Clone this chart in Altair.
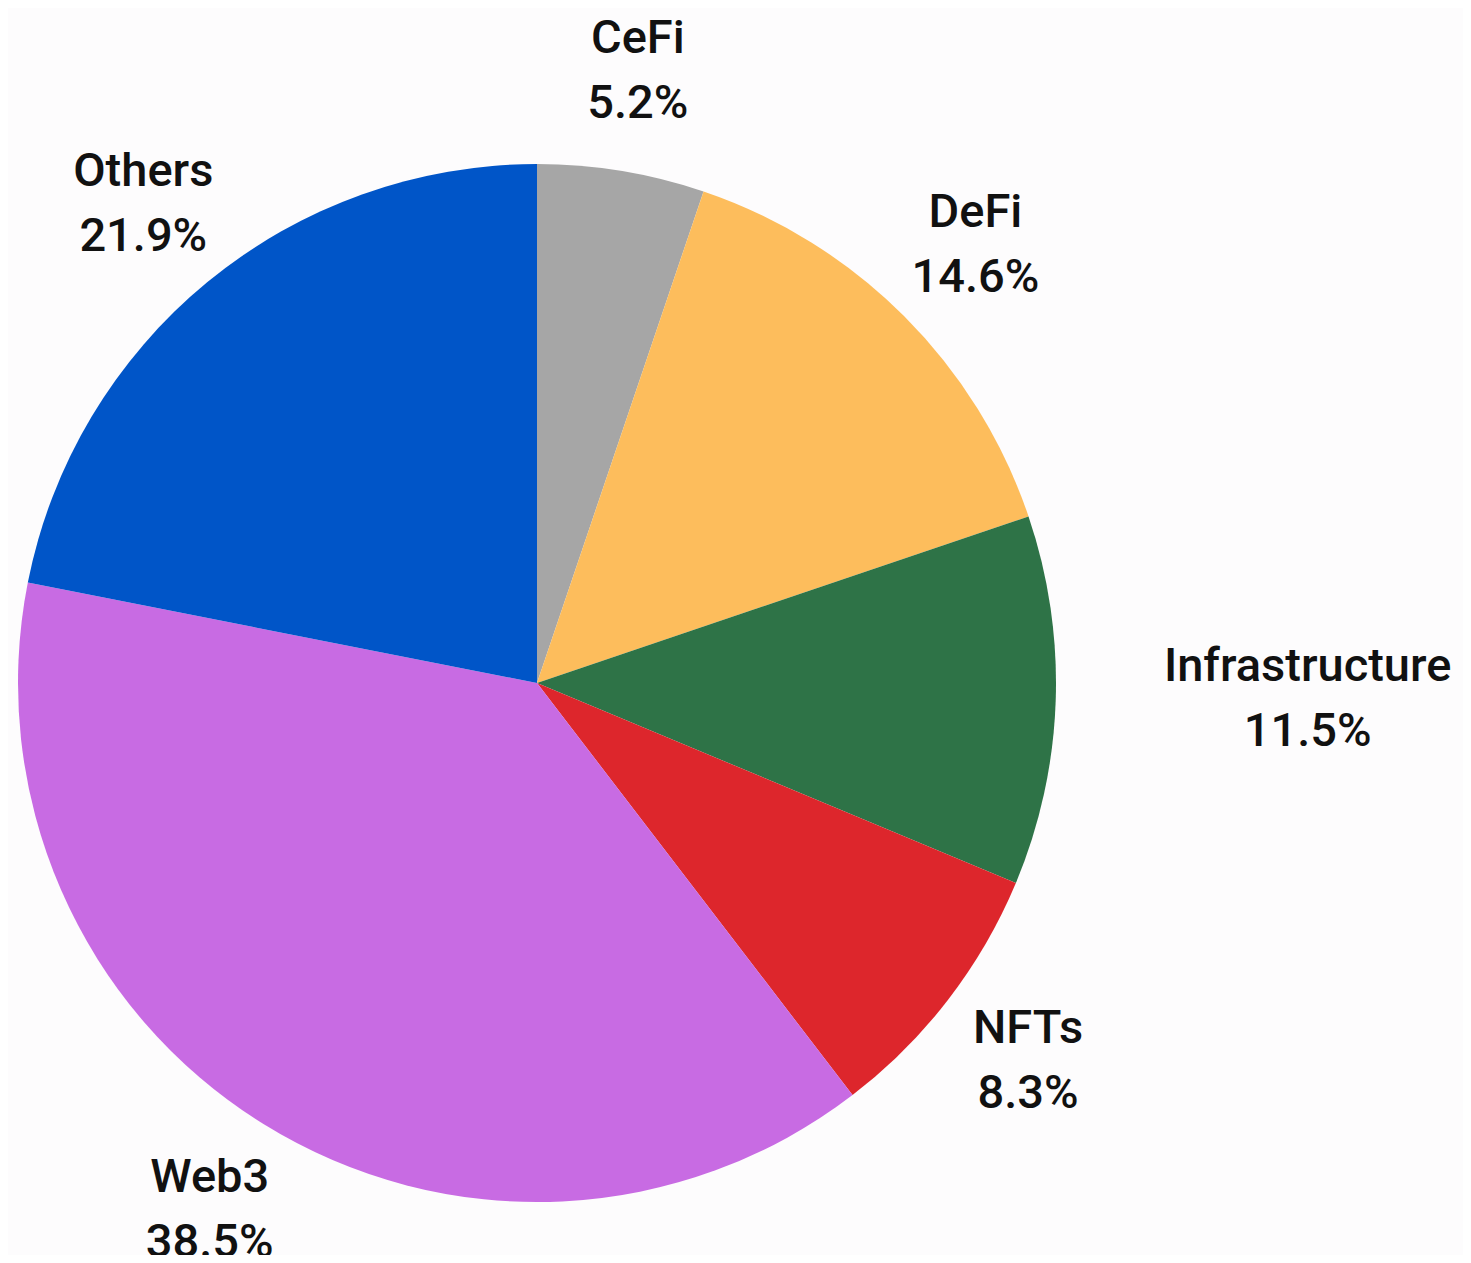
import altair as alt
import pandas as pd

categories = ["CeFi", "DeFi", "Infrastructure", "NFTs", "Web3", "Others"]
values = [5.2, 14.6, 11.5, 8.3, 38.5, 21.9]
colors = ["#a6a6a6", "#fdbd5c", "#2e7347", "#dd262c", "#c86be3", "#0055c8"]

df = pd.DataFrame({
    "category": categories,
    "value": values,
    "idx": list(range(len(categories))),
    "label": [f"{c}\n{v:.1f}%" for c, v in zip(categories, values)],
})

CX, CY, R, LR = 529, 675, 519, 620

base = alt.Chart(df).encode(
    theta=alt.Theta("value:Q", stack=True),
    order=alt.Order("idx:Q"),
)

pie = base.mark_arc(strokeWidth=0).encode(
    x=alt.value(CX),
    y=alt.value(CY),
    radius=alt.value(R),
    color=alt.Color("category:N", scale=alt.Scale(domain=categories, range=colors), legend=None),
)

text_style = dict(font="Roboto", fontSize=47, fontWeight=500, color="#111111",
                  lineBreak="\n", lineHeight=65, align="center", baseline="middle")

labels = base.mark_text(dy=-32, **text_style).encode(
    x=alt.value(CX),
    y=alt.value(CY),
    radius=alt.value(LR),
    text="label:N",
    opacity=alt.condition(alt.datum.category != "Infrastructure", alt.value(1), alt.value(0)),
)

labels_infra = base.mark_text(dx=151, dy=-37, **text_style).encode(
    x=alt.value(CX),
    y=alt.value(CY),
    radius=alt.value(LR),
    text="label:N",
    opacity=alt.condition(alt.datum.category == "Infrastructure", alt.value(1), alt.value(0)),
)

chart = alt.layer(pie, labels, labels_infra).properties(
    width=1455, height=1247, padding=0, autosize="none", background="#fdfcfd"
).configure_view(stroke=None)

chart.save("out.html", embed_options={"renderer": "svg", "actions": False})
